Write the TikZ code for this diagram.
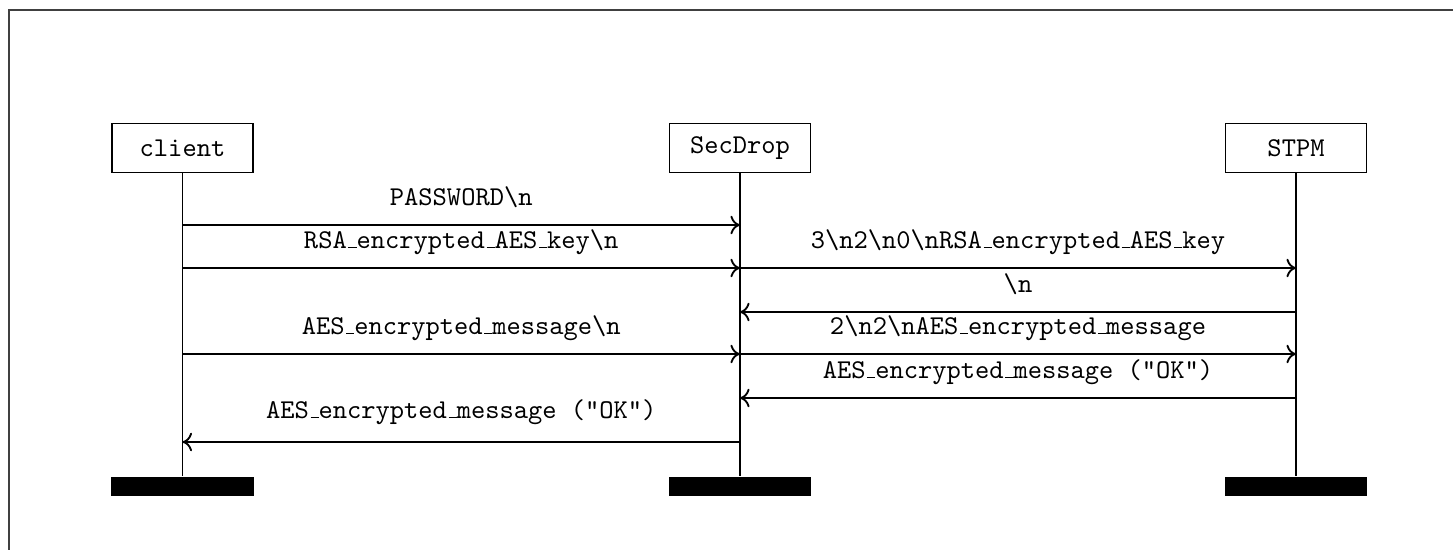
\documentclass[tikz,border=0pt]{standalone}
\usetikzlibrary{arrows.meta}
\newcommand\usc{\leavevmode\kern.06em\vbox{\hrule width.3em height 0.5pt}}
\begin{document}
\begin{tikzpicture}[x=0.3774pt,y=-0.3774pt,
  tt/.style={font=\fontsize{10.25}{12}\selectfont\ttfamily},
  actor/.style={draw, line width=0.7pt, minimum width=53.2pt, minimum height=18.5pt, inner sep=0pt, tt},
  life/.style={line width=0.7pt},
  msg/.style={-{Computer Modern Rightarrow[length=3.6pt, width=7pt]}, line width=0.7pt},
  lbl/.style={tt, anchor=base, inner sep=0pt},
  endbar/.style={fill=black, draw=none, minimum width=53.6pt, minimum height=7.5pt, inner sep=0pt, anchor=north}]
\useasboundingbox (0,0) rectangle (1453,550);
\clip (0,0) rectangle (1453,550);
\draw[line width=0.8pt, black!75] (9,10) rectangle (1500,600);
% actors
\node[actor] (client) at (182.5,148) {client};
\node[actor] (secdrop) at (740,148) {SecDrop};
\node[actor] (stpm) at (1296,148) {STPM};
% end bars
\node[endbar] (cend) at (182.5,476) {};
\node[endbar] (send) at (740,476) {};
\node[endbar] (tend) at (1296,476) {};
% lifelines
\draw[life] (client) -- (cend);
\draw[life] (secdrop) -- (send);
\draw[life] (stpm) -- (tend);
% lifeline points
\coordinate (c1) at (182.5,225); \coordinate (s1) at (740,225);
\coordinate (c2) at (182.5,268); \coordinate (s2) at (740,268); \coordinate (t2) at (1296,268);
\coordinate (s3) at (740,312); \coordinate (t3) at (1296,312);
\coordinate (c4) at (182.5,354); \coordinate (s4) at (740,354); \coordinate (t4) at (1296,354);
\coordinate (s5) at (740,398); \coordinate (t5) at (1296,398);
\coordinate (c6) at (182.5,442); \coordinate (s6) at (740,442);
% messages
\draw[msg] (c1) -- (s1) node[lbl, midway, yshift=7.5pt] {PASSWORD\textbackslash n};
\draw[msg] (c2) -- (s2) node[lbl, midway, yshift=7.5pt] {RSA\usc encrypted\usc AES\usc key\textbackslash n};
\draw[msg] (s2) -- (t2) node[lbl, midway, yshift=7.5pt] {3\textbackslash n2\textbackslash n0\textbackslash nRSA\usc encrypted\usc AES\usc key};
\draw[msg] (t3) -- (s3) node[lbl, midway, yshift=7.5pt] {\textbackslash n};
\draw[msg] (c4) -- (s4) node[lbl, midway, yshift=7.5pt] {AES\usc encrypted\usc message\textbackslash n};
\draw[msg] (s4) -- (t4) node[lbl, midway, yshift=7.5pt] {2\textbackslash n2\textbackslash nAES\usc encrypted\usc message};
\draw[msg] (t5) -- (s5) node[lbl, midway, yshift=7.5pt] {AES\usc encrypted\usc message ("OK")};
\draw[msg] (s6) -- (c6) node[lbl, midway, yshift=9pt] {AES\usc encrypted\usc message ("OK")};
\end{tikzpicture}
\end{document}
